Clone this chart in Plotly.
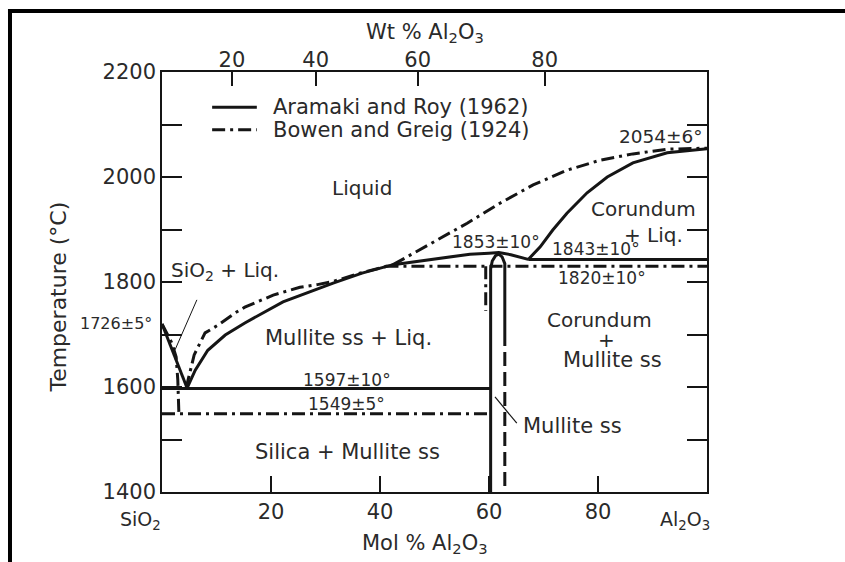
import plotly.graph_objects as go

# ---------------- data (mol % Al2O3, temperature degC) ----------------
# Aramaki and Roy (1962) - solid
ar_sio2_liq_x = [0, 4.6]
ar_sio2_liq_t = [1720, 1598]
ar_mul_liq_x = [4.6, 6.1, 8.4, 11.6, 15.2, 22.2, 31.4, 36.7, 42.4, 47.3, 52.0, 56.5, 60.0, 61.8, 64.0, 67.2]
ar_mul_liq_t = [1598, 1632, 1670, 1699, 1722, 1762, 1798, 1817, 1833, 1840, 1848, 1853, 1855, 1856, 1852, 1843]
ar_cor_liq_x = [67.2, 69.4, 71.7, 74.3, 78.0, 81.7, 86.4, 92.7, 100]
ar_cor_liq_t = [1843, 1867, 1899, 1931, 1970, 2000, 2027, 2046, 2054]
ar_eut_low_x = [0, 60.3]
ar_eut_low_t = [1597, 1597]
ar_eut_high_x = [67.2, 100]
ar_eut_high_t = [1843, 1843]
ar_mullite_x = [60.3, 60.3, 60.6, 61.2, 61.8, 62.4, 62.9, 62.9]
ar_mullite_t = [1400, 1825, 1840, 1850, 1853, 1848, 1835, 1705]
ar_mullite_dash_x = [62.9, 62.9]
ar_mullite_dash_t = [1705, 1400]

# Bowen and Greig (1924) - dash-dot
bg_sio2_liq_x = [0, 1.8, 2.6, 2.9, 3.1]
bg_sio2_liq_t = [1720, 1684, 1657, 1613, 1549]
bg_mul_liq_x = [4.4, 4.8, 5.9, 6.6, 7.9, 10.3, 13.4, 15.2, 20.4, 25.3, 28.5, 31.4, 36.7, 42.4]
bg_mul_liq_t = [1597, 1613, 1661, 1676, 1703, 1718, 1741, 1752, 1775, 1790, 1795, 1801, 1818, 1833]
bg_cor_liq_x = [42.4, 49.7, 56.0, 62.0, 68.1, 74.3, 80.4, 86.4, 92.7, 100]
bg_cor_liq_t = [1833, 1876, 1912, 1950, 1985, 2013, 2032, 2044, 2053, 2055]
bg_perit_x = [41, 100]
bg_perit_t = [1830, 1830]
bg_eut_x = [0, 60.3]
bg_eut_t = [1549, 1549]
bg_mullite_x = [59.4, 59.4]
bg_mullite_t = [1830, 1745]

# legend key (drawn inside the plot as in the original)
legend_names = ["Aramaki and Roy (1962)", "Bowen and Greig (1924)"]
legend_key_x = [9.2, 17.4]
legend_key_t = [2133, 2090]
legend_text_x = 20.0

# axes
mol_ticks = [20, 40, 60, 80]
wt_tick_labels = [20, 40, 60, 80]
temp_ticks = list(range(1400, 2201, 100))
temp_labels = [str(t) if t % 200 == 0 else "" for t in temp_ticks]

M_AL2O3 = 101.96
M_SIO2 = 60.08


def wt_to_mol(w):
    a = w / M_AL2O3
    s = (100 - w) / M_SIO2
    return 100 * a / (a + s)


wt_tick_pos = [wt_to_mol(w) for w in wt_tick_labels]

# region labels: (text, mol %, temperature, size)
labels = [
    ("Liquid", 36.7, 1979, 20),
    ("Corundum", 88.3, 1940, 20),
    ("+ Liq.", 90.1, 1889, 20),
    ("2054±6°", 91.6, 2078, 18.5),
    ("1853±10°", 61.2, 1876, 17),
    ("1843±10°", 79.6, 1863, 17),
    ("1820±10°", 80.7, 1808, 17),
    ("Corundum", 80.2, 1728, 20),
    ("+", 81.6, 1690, 20),
    ("Mullite ss", 82.6, 1651, 21),
    ("Mullite ss", 75.3, 1526, 21),
    ("Mullite ss + Liq.", 34.2, 1693, 21),
    ("1597±10°", 33.9, 1613, 17),
    ("1549±5°", 33.8, 1568, 17),
    ("Silica + Mullite ss", 34.0, 1476, 21),
    ("SiO<sub>2</sub> + Liq.", 11.6, 1821, 20),
]

# leader lines
lead1_x = [6.4, 2.4]
lead1_t = [1766, 1671]
lead2_x = [61.1, 65.1]
lead2_t = [1581, 1531]

# ---------------- figure ----------------
INK = "#151515"
TXT = "#2a2a2a"
FONT = "DejaVu Sans"
DASHDOT = "13px,5px,3px,5px"

fig = go.Figure()


def add(x, y, dash="solid", width=3, name=None, xaxis="x"):
    fig.add_trace(go.Scatter(
        x=x, y=y, mode="lines", xaxis=xaxis,
        line=dict(color=INK, width=width, dash=dash),
        name=name, showlegend=False, hoverinfo="skip"))


# Aramaki and Roy
add(ar_mul_liq_x, ar_mul_liq_t, name=legend_names[0])
add(ar_sio2_liq_x, ar_sio2_liq_t)
add(ar_cor_liq_x, ar_cor_liq_t)
add(ar_eut_low_x, ar_eut_low_t)
add(ar_eut_high_x, ar_eut_high_t)
add(ar_mullite_x, ar_mullite_t)
add(ar_mullite_dash_x, ar_mullite_dash_t, dash="14px,6px")

# Bowen and Greig
add(bg_cor_liq_x, bg_cor_liq_t, dash=DASHDOT, name=legend_names[1])
add(bg_mul_liq_x, bg_mul_liq_t, dash=DASHDOT)
add(bg_sio2_liq_x, bg_sio2_liq_t, dash=DASHDOT)
add(bg_perit_x, bg_perit_t, dash=DASHDOT, xaxis="x2")
add(bg_eut_x, bg_eut_t, dash=DASHDOT)
add(bg_mullite_x, bg_mullite_t, dash=DASHDOT)

# leaders
add(lead1_x, lead1_t, width=1)
add(lead2_x, lead2_t, width=1.2)

# legend keys
add(legend_key_x, [legend_key_t[0]] * 2, name=legend_names[0])
add(legend_key_x, [legend_key_t[1]] * 2, dash=DASHDOT, name=legend_names[1])

annotations = []
for text, x, t, size in labels:
    annotations.append(dict(x=x, y=t, xref="x", yref="y", text=text, showarrow=False,
                            xanchor="center", yanchor="middle",
                            font=dict(family=FONT, size=size, color=TXT)))
for name, t in zip(legend_names, legend_key_t):
    annotations.append(dict(x=legend_text_x, y=t, xref="x", yref="y", text=name, showarrow=False,
                            xanchor="left", yanchor="middle",
                            font=dict(family=FONT, size=21, color=TXT)))


def paper_label(text, x, y, size, angle=0):
    return dict(x=x, y=y, xref="paper", yref="paper", text=text, showarrow=False,
                xanchor="center", yanchor="middle", textangle=angle,
                font=dict(family=FONT, size=size, color=TXT))


annotations += [
    paper_label("SiO<sub>2</sub>", -0.040, -0.069, 19),
    paper_label("Al<sub>2</sub>O<sub>3</sub>", 0.960, -0.069, 19),
    paper_label("Mol % Al<sub>2</sub>O<sub>3</sub>", 0.483, -0.124, 21),
    paper_label("Wt % Al<sub>2</sub>O<sub>3</sub>", 0.483, 1.093, 21),
    paper_label("Temperature (°C)", -0.190, 0.464, 22, -90),
    paper_label("1726±5°", -0.084, 0.402, 16),
]

axis_common = dict(showgrid=False, zeroline=False, ticks="inside", tickcolor=INK,
                   tickwidth=1.5, tickfont=dict(family=FONT, size=21, color=TXT))

fig.update_layout(
    width=845, height=562,
    margin=dict(l=162, r=138, t=72, b=70),
    paper_bgcolor="white", plot_bgcolor="white",
    showlegend=False,
    xaxis=dict(range=[0, 100], tickvals=mol_ticks, ticktext=[str(v) for v in mol_ticks],
               ticklen=16, showline=True, linecolor=INK, linewidth=1.5, mirror=True,
               **axis_common),
    xaxis2=dict(range=[0, 100], overlaying="x", side="top", tickvals=wt_tick_pos,
                ticktext=[str(v) for v in wt_tick_labels], ticklen=14, showline=False,
                **axis_common),
    yaxis=dict(range=[1400, 2200], tickvals=temp_ticks, ticktext=temp_labels, ticklen=20,
               showline=True, linecolor=INK, linewidth=1.5, mirror="ticks", **axis_common),
    annotations=annotations,
    shapes=[
        dict(type="line", xref="paper", yref="paper", x0=-0.2826, x1=1.26, y0=1.145, y1=1.145,
             line=dict(color="black", width=4)),
        dict(type="line", xref="paper", yref="paper", x0=-0.2789, x1=-0.2789, y0=1.15, y1=-0.2,
             line=dict(color="black", width=4)),
    ],
)

fig.write_html("out.html")
